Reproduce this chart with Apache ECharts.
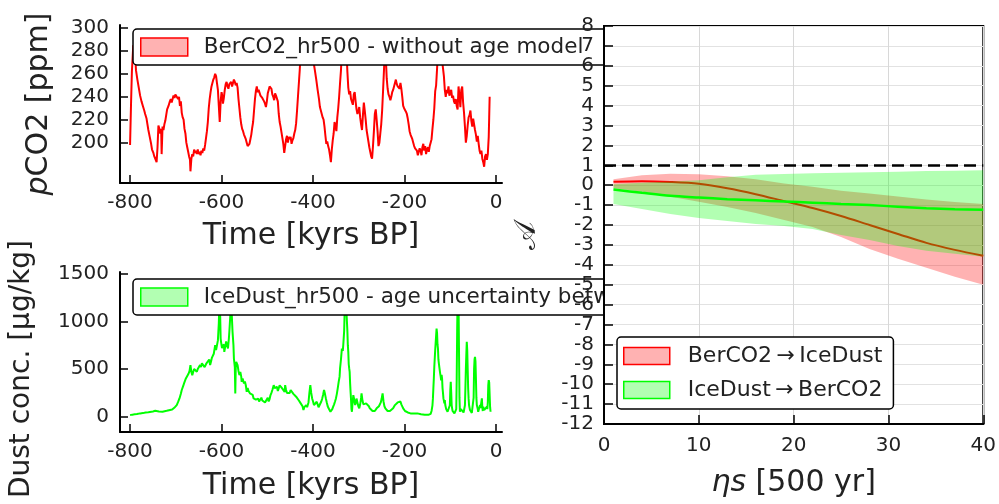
<!DOCTYPE html>
<html>
<head>
<meta charset="utf-8">
<script src="https://cdn.jsdelivr.net/npm/echarts@6/dist/echarts.min.js"></script>
<style>
  html, body { margin: 0; padding: 0; background: #fff; }
  #chart { width: 999px; height: 504px; }
</style>
</head>
<body>
<div id="chart"></div>
<script>
// pCO2 record [time kyrs BP, ppm]
var co2Record = [
  [-800,198],[-798,232],[-796,262],[-793,285],[-790,282],[-787,263],[-784,255],[-781,248],[-778,241],[-775,236],
  [-772,232],[-769,228],[-767,225],[-764,221],[-762,216],[-760,211],[-757,205],[-754,199],[-752,194],[-749,191],
  [-747,188],[-745,186],[-742,183],[-740,196],[-738,215],[-736,212],[-734,208],[-732,212],[-731,190],[-729,214],
  [-727,211],[-725,216],[-723,219],[-721,224],[-719,229],[-716,232],[-713,236],[-711,238],[-709,235],[-707,238],
  [-705,241],[-703,239],[-701,242],[-699,241],[-697,243],[-695,238],[-693,240],[-691,232],[-689,236],[-687,226],
  [-685,222],[-683,220],[-681,212],[-679,208],[-677,200],[-675,196],[-673,192],[-671,188],[-669,185],[-668,175],
  [-666,186],[-664,190],[-662,188],[-660,194],[-658,191],[-656,193],[-654,190],[-652,194],[-650,190],[-648,192],
  [-646,189],[-644,193],[-642,191],[-640,195],[-638,193],[-636,198],[-634,204],[-632,210],[-630,218],[-628,230],
  [-626,238],[-624,244],[-622,249],[-620,252],[-618,255],[-616,257],[-614,260],[-612,258],[-610,252],[-608,246],
  [-606,232],[-604,218],[-602,236],[-600,244],[-598,240],[-597,234],[-595,239],[-593,246],[-591,251],[-589,253],
  [-587,249],[-585,247],[-583,251],[-581,250],[-579,253],[-577,249],[-575,252],[-573,255],[-571,253],[-569,250],
  [-567,252],[-565,248],[-563,238],[-561,230],[-559,222],[-557,216],[-555,212],[-553,210],[-551,207],[-549,205],
  [-547,203],[-545,200],[-543,197],[-541,196],[-539,199],[-537,203],[-535,207],[-533,213],[-531,218],[-529,228],
  [-527,238],[-525,245],[-523,249],[-521,244],[-519,246],[-517,247],[-515,241],[-513,242],[-511,239],[-509,240],
  [-507,236],[-505,234],[-503,231],[-501,236],[-499,243],[-497,246],[-495,249],[-493,250],[-491,247],[-489,242],
  [-487,240],[-485,237],[-483,243],[-481,241],[-479,242],[-477,236],[-475,225],[-473,218],[-471,214],[-469,209],
  [-467,204],[-465,199],[-463,191],[-461,197],[-459,203],[-457,206],[-455,200],[-453,205],[-451,203],[-449,205],
  [-447,199],[-445,202],[-443,204],[-441,208],[-439,211],[-437,217],[-435,228],[-433,240],[-431,252],[-429,264],
  [-427,280],[-424,292],[-420,294],[-416,290],[-412,287],[-408,282],[-404,277],[-400,272],[-398,268],[-396,263],
  [-393,255],[-390,246],[-387,238],[-385,231],[-383,228],[-381,225],[-379,222],[-377,220],[-375,214],[-373,206],
  [-371,199],[-369,201],[-367,197],[-365,194],[-363,189],[-361,183],[-359,194],[-357,202],[-355,208],[-353,218],
  [-351,214],[-349,210],[-347,222],[-345,230],[-343,240],[-341,252],[-339,263],[-337,280],[-334,292],[-330,296],
  [-327,282],[-325,262],[-323,248],[-321,242],[-319,245],[-317,238],[-315,237],[-313,233],[-311,242],[-309,244],
  [-307,236],[-305,229],[-303,225],[-301,228],[-299,231],[-297,222],[-295,216],[-293,211],[-291,224],[-289,235],
  [-287,228],[-285,220],[-283,211],[-281,206],[-279,201],[-277,196],[-275,192],[-273,188],[-271,186],[-269,197],
  [-267,210],[-265,225],[-263,229],[-261,220],[-259,210],[-257,197],[-255,200],[-253,208],[-251,216],[-249,228],
  [-247,245],[-245,263],[-243,282],[-241,275],[-239,256],[-237,247],[-235,242],[-233,240],[-231,237],[-229,240],
  [-227,244],[-225,246],[-223,249],[-221,252],[-219,255],[-217,251],[-215,249],[-213,250],[-211,247],[-209,252],
  [-207,247],[-205,240],[-203,232],[-201,230],[-199,229],[-197,227],[-195,225],[-193,221],[-191,216],[-189,210],
  [-187,207],[-185,205],[-183,203],[-181,200],[-179,197],[-177,195],[-175,196],[-173,193],[-171,189],[-169,188],
  [-167,195],[-165,193],[-163,189],[-161,196],[-159,199],[-157,193],[-155,197],[-153,190],[-151,194],[-149,196],
  [-147,192],[-145,197],[-143,200],[-141,203],[-139,212],[-137,220],[-135,230],[-133,245],[-131,250],[-129,264],
  [-127,280],[-124,288],[-121,282],[-118,272],[-116,265],[-114,258],[-112,246],[-110,240],[-108,246],[-106,243],
  [-104,249],[-102,241],[-100,244],[-98,246],[-96,239],[-94,241],[-92,236],[-90,234],[-88,238],[-86,232],
  [-84,229],[-82,249],[-80,241],[-78,231],[-76,246],[-74,249],[-72,235],[-70,226],[-68,214],[-66,200],
  [-64,206],[-62,215],[-60,222],[-58,224],[-56,228],[-54,219],[-52,214],[-50,221],[-48,216],[-46,211],
  [-44,207],[-42,201],[-40,206],[-38,199],[-36,193],[-34,190],[-32,193],[-30,186],[-28,183],[-26,179],
  [-24,188],[-22,190],[-20,185],[-18,190],[-16,205],[-15,222],[-14,240]
];

// dust record [time kyrs BP, ug/kg]
var dustRecord = [
  [-800,17],[-795,22],[-790,25],[-785,28],[-778,35],[-772,38],[-766,45],[-760,48],[-756,52],[-750,55],
  [-745,62],[-741,60],[-737,55],[-733,58],[-729,52],[-725,58],[-720,62],[-715,68],[-711,66],[-708,75],
  [-705,88],[-702,100],[-698,122],[-695,155],[-692,192],[-689,240],[-687,280],[-684,320],[-682,350],[-680,370],
  [-678,401],[-675,420],[-672,453],[-670,480],[-668,541],[-666,470],[-664,436],[-662,470],[-660,500],[-658,506],
  [-656,480],[-654,471],[-652,500],[-650,520],[-647,541],[-645,520],[-643,560],[-641,575],[-639,540],[-637,520],
  [-635,510],[-633,560],[-631,575],[-629,560],[-627,600],[-625,541],[-623,580],[-621,620],[-619,610],[-617,660],
  [-615,720],[-614,750],[-612,700],[-610,680],[-608,800],[-607,889],[-606,980],[-605,1150],[-603,1050],[-602,820],
  [-601,780],[-599,720],[-597,715],[-595,760],[-594,680],[-592,700],[-590,790],[-588,750],[-586,715],[-584,820],
  [-583,890],[-581,1050],[-580,1200],[-578,1100],[-576,890],[-574,750],[-573,610],[-571,520],[-570,245],[-569,520],
  [-568,575],[-566,560],[-565,541],[-563,480],[-561,436],[-559,470],[-557,420],[-556,366],[-554,400],[-552,383],
  [-551,349],[-549,370],[-547,330],[-545,262],[-543,300],[-541,270],[-538,245],[-535,260],[-532,230],[-530,192],
  [-527,210],[-525,180],[-523,175],[-520,190],[-518,160],[-516,175],[-513,200],[-511,170],[-508,175],[-505,150],
  [-503,165],[-501,157],[-499,200],[-497,160],[-495,185],[-493,227],[-491,250],[-489,280],[-487,300],[-486,331],
  [-484,300],[-482,320],[-480,280],[-479,314],[-477,270],[-475,300],[-473,330],[-472,349],[-470,320],[-468,300],
  [-466,280],[-464,297],[-462,260],[-461,331],[-459,280],[-457,250],[-455,262],[-453,230],[-451,250],[-449,280],
  [-447,297],[-445,270],[-443,240],[-441,220],[-439,245],[-437,210],[-435,200],[-433,190],[-431,170],[-429,150],
  [-427,140],[-425,157],[-423,110],[-421,70],[-419,100],[-417,95],[-415,122],[-413,100],[-410,150],[-408,250],
  [-406,331],[-404,250],[-402,192],[-400,160],[-398,122],[-396,140],[-394,120],[-392,157],[-390,130],[-388,100],
  [-386,88],[-384,120],[-382,160],[-380,190],[-378,230],[-376,280],[-374,240],[-372,192],[-370,150],[-368,110],
  [-366,88],[-364,70],[-362,52],[-360,60],[-358,80],[-356,105],[-354,130],[-352,160],[-350,192],[-348,240],
  [-346,300],[-344,366],[-342,420],[-341,506],[-339,600],[-337,715],[-335,690],[-334,750],[-332,900],[-331,1100],
  [-330,1250],[-329,1200],[-327,1100],[-326,1000],[-325,900],[-324,750],[-323,680],[-322,550],[-321,506],[-320,470],
  [-319,350],[-318,262],[-317,180],[-316,80],[-315,52],[-314,120],[-312,227],[-310,180],[-308,122],[-306,160],
  [-305,190],[-303,150],[-301,110],[-299,88],[-297,130],[-295,200],[-294,245],[-292,170],[-290,130],[-288,122],
  [-286,150],[-284,140],[-282,157],[-280,130],[-278,110],[-276,88],[-274,100],[-272,80],[-270,60],[-268,52],
  [-265,60],[-263,75],[-261,88],[-258,95],[-256,110],[-254,122],[-252,150],[-250,190],[-248,245],[-246,160],
  [-244,110],[-242,88],[-240,75],[-237,60],[-235,52],[-232,60],[-230,55],[-228,70],[-225,88],[-223,100],
  [-221,122],[-219,140],[-217,130],[-215,150],[-213,157],[-211,140],[-209,160],[-207,130],[-205,110],[-203,88],
  [-201,70],[-199,60],[-196,52],[-193,45],[-190,40],[-187,35],[-184,38],[-180,35],[-176,33],[-172,35],
  [-168,30],[-164,26],[-160,24],[-156,20],[-152,17],[-148,20],[-145,24],[-143,30],[-141,60],[-139,120],
  [-138,192],[-137,300],[-136,400],[-135,520],[-134,610],[-133,700],[-131,850],[-130,925],[-129,880],[-128,760],
  [-127,715],[-126,600],[-125,560],[-124,520],[-123,500],[-122,450],[-121,420],[-120,380],[-119,440],[-118,400],
  [-117,300],[-116,250],[-115,192],[-114,170],[-113,140],[-112,175],[-111,122],[-109,80],[-108,60],[-106,52],
  [-104,55],[-102,52],[-101,120],[-100,280],[-99,366],[-98,250],[-97,120],[-96,88],[-95,60],[-93,40],
  [-91,35],[-89,45],[-88,52],[-87,80],[-86,400],[-85,900],[-84,1250],[-83,1300],[-82,1200],[-81,700],
  [-80,200],[-79,52],[-77,80],[-75,88],[-73,70],[-71,45],[-70,35],[-69,60],[-68,120],[-67,300],
  [-66,500],[-65,650],[-64,785],[-63,700],[-62,500],[-61,300],[-60,192],[-59,120],[-57,70],[-55,52],
  [-53,40],[-51,35],[-50,60],[-49,200],[-48,500],[-47,600],[-46,627],[-45,580],[-44,400],[-43,200],
  [-42,122],[-40,80],[-39,52],[-37,60],[-35,122],[-34,90],[-33,70],[-31,192],[-30,100],[-29,60],
  [-28,105],[-26,70],[-24,52],[-22,88],[-20,105],[-19,80],[-18,150],[-17,330],[-16,383],[-15,360],
  [-14,366],[-13,100],[-12,52]
];

// causality strength vs shift (eta s, units of 500 yr)
var shiftEta = [1, 4, 7, 10, 13, 16, 19, 22, 25, 28, 31, 34, 37, 40];
var co2ToDustMid = [0.17, 0.2, 0.16, 0.07, -0.15, -0.45, -0.8, -1.15, -1.55, -2.0, -2.45, -2.9, -3.25, -3.55];
var co2ToDustHigh = [0.3, 0.5, 0.58, 0.55, 0.45, 0.3, 0.08, -0.08, -0.28, -0.42, -0.57, -0.72, -0.85, -0.95];
var co2ToDustLow = [-0.15, -0.33, -0.58, -0.83, -1.1, -1.4, -1.75, -2.1, -2.6, -3.2, -3.7, -4.15, -4.6, -5.0];
var dustToCo2Mid = [-0.22, -0.38, -0.53, -0.62, -0.7, -0.76, -0.82, -0.88, -0.94, -1.0, -1.08, -1.16, -1.21, -1.23];
var dustToCo2High = [0.05, 0.12, 0.18, 0.25, 0.4, 0.52, 0.56, 0.6, 0.62, 0.65, 0.68, 0.71, 0.73, 0.75];
var dustToCo2Low = [-0.95, -1.2, -1.45, -1.65, -1.8, -1.95, -2.05, -2.2, -2.5, -2.75, -3.05, -3.3, -3.45, -3.6];

var timeTicks = [-800, -600, -400, -200, 0];
var co2Ticks = [200, 220, 240, 260, 280, 300];
var dustTicks = [0, 500, 1000, 1500];
var thresholdLevel = 1;

var co2Name = 'BerCO2_hr500 - without age model';
var dustName = 'IceDust_hr500 - age uncertainty between ages';
var fwdName = 'BerCO2\u2009\u2192\u2009IceDust';
var bwdName = 'IceDust\u2009\u2192\u2009BerCO2';

var FONT = 'DejaVu Sans';
var INK = '#222';

function plain(v) { return String(v); }

function tickAxis(extra) {
  var base = {
    type: 'value',
    axisLine: { show: true, onZero: false, lineStyle: { color: '#000', width: 2 } },
    axisTick: { show: true, inside: true, length: 8, lineStyle: { color: '#000', width: 1.5 } },
    axisLabel: { fontSize: 20, color: INK, fontFamily: FONT, formatter: plain },
    splitLine: { show: false },
    nameLocation: 'middle',
    nameTextStyle: { fontSize: 30, color: INK, fontFamily: FONT }
  };
  return echarts.util.merge(base, extra, true);
}

function bandSeries(name, low, high, fill, z) {
  return {
    type: 'custom',
    name: name,
    xAxisIndex: 2,
    yAxisIndex: 2,
    z: z,
    data: shiftEta.map(function(e, i) { return [e, low[i], high[i]]; }),
    encode: { x: 0, y: [1, 2] },
    renderItem: function(params, api) {
      if (params.dataIndex !== 0) { return null; }
      var pts = [];
      for (var i = 0; i < shiftEta.length; i++) { pts.push(api.coord([shiftEta[i], high[i]])); }
      for (var j = shiftEta.length - 1; j >= 0; j--) { pts.push(api.coord([shiftEta[j], low[j]])); }
      return { type: 'polygon', shape: { points: pts }, style: { fill: fill } };
    }
  };
}

function legendBox(extra) {
  var base = {
    selectedMode: false,
    icon: 'rect',
    itemWidth: 47,
    itemHeight: 18,
    backgroundColor: '#fff',
    borderColor: '#000',
    borderWidth: 1.5,
    borderRadius: 4,
    textStyle: { fontSize: 21.5, color: INK, fontFamily: FONT, padding: [0, 0, 0, 11] }
  };
  return echarts.util.merge(base, extra, true);
}

var chart = echarts.init(document.getElementById('chart'));

var option = {
  animation: false,
  textStyle: { fontFamily: FONT },
  grid: [
    { left: 120, top: 25, width: 382, height: 158 },
    { left: 120, top: 272, width: 382, height: 160 },
    { left: 604, top: 26, width: 381, height: 398, show: true, backgroundColor: '#fff',
      borderColor: '#000', borderWidth: 2, z: 5 }
  ],
  xAxis: [
    tickAxis({ gridIndex: 0, min: -822, max: 13,
      axisTick: { customValues: timeTicks }, axisLabel: { customValues: timeTicks, margin: 10 },
      name: 'Time [kyrs BP]', nameGap: 38 }),
    tickAxis({ gridIndex: 1, min: -822, max: 13,
      axisTick: { customValues: timeTicks }, axisLabel: { customValues: timeTicks, margin: 10 },
      name: 'Time [kyrs BP]', nameGap: 39 }),
    tickAxis({ gridIndex: 2, min: 0, max: 40, interval: 10, z: 6,
      axisTick: { length: 9 }, axisLabel: { margin: 12 },
      splitLine: { show: true, lineStyle: { color: '#d8d8d8', width: 1 } },
      name: '{it|\u03b7s} [500 yr]', nameGap: 44,
      nameTextStyle: { rich: { it: { fontStyle: 'italic', fontSize: 30, color: INK, fontFamily: FONT } } } })
  ],
  yAxis: [
    tickAxis({ gridIndex: 0, min: 164.8, max: 302.6,
      axisTick: { customValues: co2Ticks }, axisLabel: { customValues: co2Ticks, margin: 11 },
      name: '{it|p}CO2 [ppm]', nameGap: 66,
      nameTextStyle: { fontSize: 30, rich: { it: { fontStyle: 'italic', fontSize: 30, color: INK, fontFamily: FONT } } } }),
    tickAxis({ gridIndex: 1, min: -160, max: 1517,
      axisTick: { customValues: dustTicks }, axisLabel: { customValues: dustTicks, margin: 11 },
      name: 'Dust conc. [\u00b5g/kg]', nameGap: 84,
      nameTextStyle: { fontSize: 28, padding: [0, 34, 0, 0] } }),
    tickAxis({ gridIndex: 2, min: -12, max: 8, interval: 1, z: 6,
      axisTick: { length: 9 }, axisLabel: { margin: 10 },
      splitLine: { show: true, lineStyle: { color: '#e2e2e2', width: 1 } },
      name: '\ud835\udc9c', nameGap: 62,
      nameTextStyle: { fontSize: 30, padding: [0, 22, 0, 0] } })
  ],
  legend: [
    legendBox({ data: [{ name: co2Name, itemStyle: { color: 'rgba(255,0,0,0.3)', borderColor: '#f00', borderWidth: 1.5 } }],
      left: 133, top: 29, padding: [7, 40, 7, 7], z: 4 }),
    legendBox({ data: [{ name: dustName, itemStyle: { color: 'rgba(0,255,0,0.3)', borderColor: '#0f0', borderWidth: 1.5 } }],
      left: 133, top: 279, padding: [7, 40, 7, 7], z: 4 }),
    legendBox({ data: [
        { name: fwdName, itemStyle: { color: 'rgba(255,0,0,0.3)', borderColor: '#f00', borderWidth: 1.5 } },
        { name: bwdName, itemStyle: { color: 'rgba(0,255,0,0.3)', borderColor: '#0f0', borderWidth: 1.5 } }
      ],
      orient: 'vertical', left: 617, top: 337, itemWidth: 46, itemHeight: 17, itemGap: 12,
      padding: [8, 11, 8, 6], z: 20,
      textStyle: { fontSize: 22, padding: [0, 0, 0, 13] } })
  ],
  series: [
    {
      type: 'line', name: co2Name, xAxisIndex: 0, yAxisIndex: 0, z: 2,
      data: co2Record, showSymbol: false, symbol: 'none',
      lineStyle: { color: '#ff0000', width: 2 }, itemStyle: { color: '#ff0000' }
    },
    {
      type: 'line', name: dustName, xAxisIndex: 1, yAxisIndex: 1, z: 2,
      data: dustRecord, showSymbol: false, symbol: 'none',
      lineStyle: { color: '#00ff00', width: 2 }, itemStyle: { color: '#00ff00' }
    },
    bandSeries(fwdName, co2ToDustLow, co2ToDustHigh, 'rgba(255,0,0,0.3)', 7),
    {
      type: 'line', name: fwdName, xAxisIndex: 2, yAxisIndex: 2, z: 8, smooth: 0.3,
      data: shiftEta.map(function(e, i) { return [e, co2ToDustMid[i]]; }),
      showSymbol: false, symbol: 'none',
      lineStyle: { color: '#ff0000', width: 2 }, itemStyle: { color: '#ff0000' }
    },
    bandSeries(bwdName, dustToCo2Low, dustToCo2High, 'rgba(0,255,0,0.3)', 9),
    {
      type: 'line', name: bwdName, xAxisIndex: 2, yAxisIndex: 2, z: 10, smooth: 0.3,
      data: shiftEta.map(function(e, i) { return [e, dustToCo2Mid[i]]; }),
      showSymbol: false, symbol: 'none',
      lineStyle: { color: '#00ff00', width: 2.5 }, itemStyle: { color: '#00ff00' },
      markLine: {
        silent: true, symbol: 'none', z: 12,
        label: { show: false },
        lineStyle: { color: '#000', type: [12, 6], width: 2.5 },
        data: [{ yAxis: thresholdLevel }]
      }
    }
  ]
};

chart.setOption(option);

window.addEventListener('resize', function() { chart.resize(); });
</script>
</body>
</html>
